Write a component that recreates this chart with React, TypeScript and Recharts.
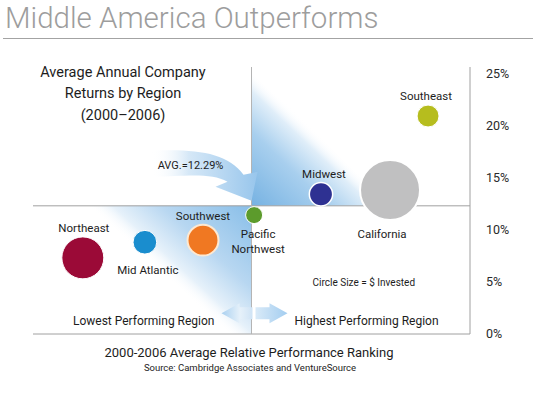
import {
  ReferenceArea,
  ReferenceDot,
  ReferenceLine,
  Scatter,
  ScatterChart,
  XAxis,
  YAxis,
  ZAxis,
} from "recharts";

const FONT = "Roboto, 'Noto Sans', sans-serif";

// x = relative ranking (0 worst .. 100 best), y = avg annual return %
const regions = [
  "Northeast",
  "Mid Atlantic",
  "Southwest",
  "Pacific Northwest",
  "Midwest",
  "California",
  "Southeast",
];
const ranking = [11.4, 25.6, 38.9, 50.6, 65.9, 81.7, 90.4];
const avgReturn = [7.3, 8.8, 9.0, 11.4, 13.4, 13.8, 20.9];
const invested = [22, 7, 12, 3.6, 6.8, 45, 6];
const yTicks = [0, 5, 10, 15, 20, 25];
const AVG = 12.29;
const MID_RANK = 50;

const data = regions.map((region, i) => ({
  region,
  x: ranking[i],
  y: avgReturn[i],
  z: invested[i],
}));

type Look = {
  fill: string;
  stroke: string;
  sw: number;
  lines: string[];
  side: "top" | "bottom";
  dx: number;
  gap: number;
};

const looks: Record<string, Look> = {
  Northeast: { fill: "#9b0a37", stroke: "#ffffff", sw: 1, lines: ["Northeast"], side: "top", dx: 1, gap: 5 },
  "Mid Atlantic": { fill: "#1a8dce", stroke: "#ffffff", sw: 1, lines: ["Mid Atlantic"], side: "bottom", dx: 3, gap: 20 },
  Southwest: { fill: "#f07822", stroke: "#fde9d2", sw: 2, lines: ["Southwest"], side: "top", dx: 0, gap: 5 },
  "Pacific Northwest": { fill: "#5c9b2c", stroke: "#ffffff", sw: 1, lines: ["Pacific", "Northwest"], side: "bottom", dx: 4, gap: 14 },
  Midwest: { fill: "#2e3192", stroke: "#ffffff", sw: 1.5, lines: ["Midwest"], side: "top", dx: 3, gap: 5 },
  California: { fill: "#c0c0c1", stroke: "#ffffff", sw: 2, lines: ["California"], side: "bottom", dx: -8, gap: 18 },
  Southeast: { fill: "#b6bd1e", stroke: "#ffffff", sw: 1, lines: ["Southeast"], side: "top", dx: -2, gap: 5 },
};

function Bubble(props: any) {
  const { cx, cy, width, payload } = props;
  const r = width / 2;
  const look = looks[payload.region];
  const lineH = 15;
  const firstY =
    look.side === "top"
      ? cy - r - look.gap - (look.lines.length - 1) * lineH
      : cy + r + look.gap;
  return (
    <g>
      <circle cx={cx} cy={cy} r={r} fill={look.fill} stroke={look.stroke} strokeWidth={look.sw} />
      {look.lines.map((t, i) => (
        <text
          key={t}
          x={cx + look.dx}
          y={firstY + i * lineH}
          textAnchor="middle"
          fontSize={11.5}
          fill="#1d1d1d"
        >
          {t}
        </text>
      ))}
    </g>
  );
}

// curved "AVG" callout arrow, tip sits on the average/midpoint crossing
function AvgArrow(props: any) {
  const { cx, cy } = props;
  const ty = cy - 5;
  return (
    <g transform={`translate(${cx},${ty})`}>
      <path
        d="M -100,-50 C -55,-52 -24,-48 -8,-26 L 6,-29 L 0,0 L -36,-14 L -24,-19 C -40,-28 -62,-25 -100,-24 Z"
        fill="url(#avgArrow)"
      />
      <text x={-61} y={-32} textAnchor="middle" fontSize={11} fill="#1d1d1d">
        AVG.=12.29%
      </text>
    </g>
  );
}

function RankArrows(props: any) {
  const { cx, cy } = props;
  return (
    <g transform={`translate(${cx},${cy})`}>
      <path d="M 1,-6 L -12,-6 L -12,-10 L -30,0 L -12,10 L -12,6 L 1,6 Z" fill="url(#rankArrowL)" />
      <path d="M 4,-6 L 18,-6 L 18,-10 L 36,0 L 18,10 L 18,6 L 4,6 Z" fill="url(#rankArrowR)" />
      <text x={-37} y={12} textAnchor="end" fontSize={12} fill="#1d1d1d">
        Lowest Performing Region
      </text>
      <text x={43} y={12} textAnchor="start" fontSize={12} fill="#1d1d1d">
        Highest Performing Region
      </text>
    </g>
  );
}

function SizeNote(props: any) {
  const { cx, cy } = props;
  return (
    <text x={cx} y={cy + 4} textAnchor="middle" fontSize={10} fill="#1d1d1d">
      Circle Size = $ Invested
    </text>
  );
}

export default function App() {
  return (
    <div
      style={{
        position: "absolute",
        left: 0,
        top: 0,
        width: 533,
        height: 395,
        background: "#fff",
        fontFamily: FONT,
      }}
    >
      <ScatterChart width={533} height={395} margin={{ top: 67, right: 8, bottom: 61, left: 33 }}>
        <defs>
          <linearGradient id="upperGlow" x1="0" y1="1" x2="0.45" y2="0.7">
            <stop offset="0" stopColor="#76b2e2" />
            <stop offset="0.55" stopColor="#a8cfee" />
            <stop offset="0.85" stopColor="#e0eef9" />
            <stop offset="1" stopColor="#ffffff" stopOpacity="0" />
          </linearGradient>
          <linearGradient id="lowerGlow" x1="1" y1="0" x2="0.47" y2="0.34">
            <stop offset="0" stopColor="#88bee8" />
            <stop offset="0.55" stopColor="#b8d7f1" />
            <stop offset="0.85" stopColor="#e6f1fa" />
            <stop offset="1" stopColor="#ffffff" stopOpacity="0" />
          </linearGradient>
          <linearGradient id="avgArrow" x1="0" y1="0" x2="1" y2="0">
            <stop offset="0" stopColor="#ffffff" stopOpacity="0" />
            <stop offset="0.35" stopColor="#d6e8f7" />
            <stop offset="1" stopColor="#98c6ec" />
          </linearGradient>
          <linearGradient id="rankArrowL" x1="0" y1="0" x2="1" y2="0">
            <stop offset="0" stopColor="#a9d0f0" />
            <stop offset="0.6" stopColor="#e6f1fa" />
            <stop offset="1" stopColor="#cfe3f5" />
          </linearGradient>
          <linearGradient id="rankArrowR" x1="0" y1="0" x2="1" y2="0">
            <stop offset="0" stopColor="#d9eaf8" />
            <stop offset="1" stopColor="#a3cdf0" />
          </linearGradient>
        </defs>
        <XAxis type="number" dataKey="x" domain={[0, 100]} hide />
        <YAxis
          type="number"
          dataKey="y"
          orientation="right"
          domain={[0, 25.6]}
          ticks={yTicks}
          tickFormatter={(v: number) => `${v}%`}
          width={55}
          tickLine={false}
          tickMargin={10}
          axisLine={{ stroke: "#a0a0a0" }}
          tick={{ fontSize: 12.5, fill: "#2a2a2a", fontFamily: FONT }}
        />
        <ZAxis type="number" dataKey="z" domain={[0, 45]} range={[0, Math.PI * 900]} />
        <ReferenceArea x1={MID_RANK} x2={100} y1={AVG} y2={25.6} fill="url(#upperGlow)" fillOpacity={1} stroke="none" />
        <ReferenceArea x1={0} x2={MID_RANK} y1={0} y2={AVG} fill="url(#lowerGlow)" fillOpacity={1} stroke="none" />
        <ReferenceLine y={0} stroke="#a0a0a0" />
        <ReferenceLine y={AVG} stroke="#a0a0a0" />
        <ReferenceLine x={MID_RANK} stroke="#b4b4b4" />
        <ReferenceDot x={MID_RANK} y={AVG} r={0} shape={AvgArrow} />
        <ReferenceDot x={MID_RANK} y={2} r={0} shape={RankArrows} />
        <ReferenceDot x={75.7} y={5} r={0} shape={SizeNote} />
        <Scatter data={data} shape={Bubble} isAnimationActive={false} />
      </ScatterChart>
      <svg
        width={533}
        height={395}
        style={{ position: "absolute", left: 0, top: 0, pointerEvents: "none" }}
      >
        <text x={5} y={28} fontSize={29.5} fontWeight={300} fill="#9d9d9d">
          Middle America Outperforms
        </text>
        <line x1={3} x2={533} y1={38.5} y2={38.5} stroke="#a3a3a3" />
        <g textAnchor="middle" fontSize={14.5} fill="#1d1d1d">
          <text x={123} y={77}>Average Annual Company</text>
          <text x={123} y={98}>Returns by Region</text>
          <text x={123} y={120}>(2000–2006)</text>
        </g>
        <text x={249} y={357} textAnchor="middle" fontSize={13} fill="#1d1d1d">
          2000-2006 Average Relative Performance Ranking
        </text>
        <text x={250} y={371} textAnchor="middle" fontSize={9.5} fill="#1d1d1d">
          Source: Cambridge Associates and VentureSource
        </text>
      </svg>
    </div>
  );
}
